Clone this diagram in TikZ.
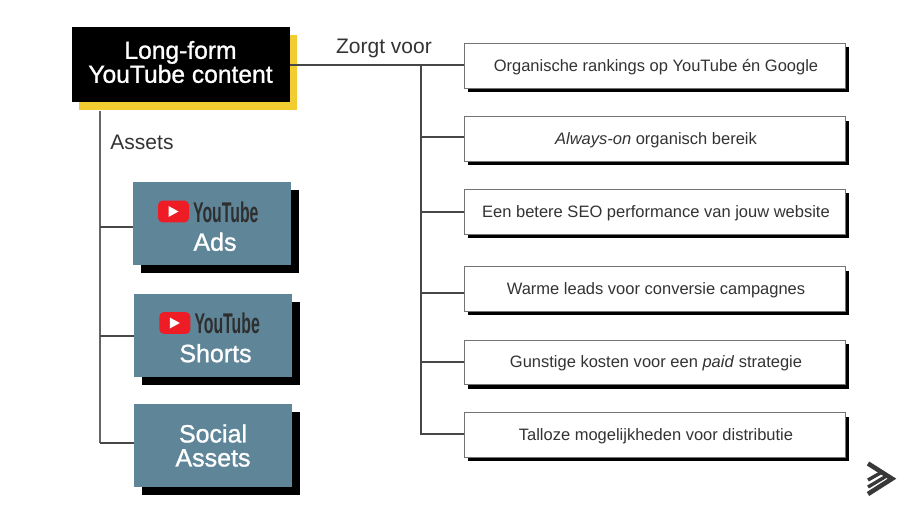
\documentclass[tikz,border=0pt]{standalone}
\usepackage{fontspec}
\usepackage{graphicx}
\setmainfont{Liberation Sans}
\newfontfamily\medfont[FakeBold=1.1]{Liberation Sans}
\usetikzlibrary{shadows}
\definecolor{ink}{HTML}{333333}
\definecolor{teal}{HTML}{5F8599}
\definecolor{gold}{HTML}{F2CD32}
\definecolor{ytred}{HTML}{EE1C25}
\tikzset{
  rbox/.style={draw=black!55,line width=.7pt,fill=white,text=ink,minimum width=381pt,minimum height=44.7pt,inner sep=0pt,font=\fontsize{16.5}{18}\selectfont,
    drop shadow={shadow xshift=4pt,shadow yshift=-4pt,fill=black,opacity=1}},
  rtxt/.style={text=ink,inner sep=0pt,font=\fontsize{16.5}{18}\selectfont},
  lbox/.style={fill=teal,text=white,minimum width=158pt,minimum height=82.6pt,inner sep=0pt,align=center,font=\medfont\fontsize{25}{24}\selectfont,
    drop shadow={shadow xshift=8pt,shadow yshift=-8pt,fill=black,opacity=1}},
  lbl/.style={text=white,inner sep=0pt,font=\medfont\fontsize{25}{24}\selectfont},
  tag/.style={text=ink,inner sep=0pt,font=\fontsize{21}{24}\selectfont},
  link/.style={draw=black!72,line width=2.1pt},
  trunk/.style={draw=black!60,line width=2.5pt},
}
\begin{document}
\begin{tikzpicture}[x=1pt,y=-1pt]
\useasboundingbox (0,0) rectangle (920,518);
\fill[white] (0,0) rectangle (920,518);
% main
\node[fill=black,minimum width=218pt,minimum height=74.4pt,inner sep=0pt,
  drop shadow={shadow xshift=7.7pt,shadow yshift=-8pt,fill=gold,opacity=1}] (main) at (180.5,64.5) {};
\node[text=white,inner sep=0pt,align=center,font=\medfont\fontsize{24.6}{24}\selectfont] (maintxt) at (180.5,62) {Long-form\\YouTube content};
% right boxes
\node[rbox] (r1) at (654.5,65.7) {};
\node[rbox] (r2) at (654.5,139) {};
\node[rbox] (r3) at (654.5,211.7) {};
\node[rbox] (r4) at (654.5,289) {};
\node[rbox] (r5) at (654.5,362.3) {};
\node[rbox] (r6) at (654.5,435) {};
\node[rtxt] (t1txt) at (656,67) {Organische rankings op YouTube én Google};
\node[rtxt] (t2txt) at (656,140) {\textit{Always-on} organisch bereik};
\node[rtxt] (t3txt) at (656,213.5) {Een betere SEO performance van jouw website};
\node[rtxt] (t4txt) at (656,290.5) {Warme leads voor conversie campagnes};
\node[rtxt] (t5txt) at (656,363.5) {Gunstige kosten voor een \textit{paid} strategie};
\node[rtxt] (t6txt) at (656,436.5) {Talloze mogelijkheden voor distributie};
% left boxes
\node[lbox] (ads) at (212,223.7) {};
\node[lbox] (shorts) at (213,335.5) {};
\node[lbox] (social) at (213,445.5) {Social\\Assets};
\node[lbl] (adstxt) at (215,241.8) {Ads};
\node[lbl] (shortstxt) at (215.5,353.2) {Shorts};
% logos
\foreach \n/\x/\y in {a/173.5/211.5,b/174.8/323}{
  \node[fill=ytred,rounded corners=4.5pt,minimum width=31pt,minimum height=21.8pt,inner sep=0pt] (\n red) at (\x,\y) {};
  \fill[white] ([xshift=-5pt,yshift=5.5pt]\n red.center) -- ([xshift=5pt]\n red.center) -- ([xshift=-5pt,yshift=-5.5pt]\n red.center) -- cycle;
  \node[anchor=west,inner sep=0pt,text=black!82,font=\bfseries\fontsize{28.5}{28}\selectfont] (\n yt) at ([xshift=3.8pt,yshift=-0.4pt]\n red.east) {\scalebox{.555}[1]{YouTube}};
}
% tags
\node[tag] (zorgt) at (384,48) {Zorgt voor};
\node[tag] (assets) at (142,142) {Assets};
% right connectors
\coordinate (j1) at (421,64.7);
\coordinate (j2) at (421,136.7);
\coordinate (j3) at (421,212);
\coordinate (j4) at (421,293.3);
\coordinate (j5) at (421,362);
\coordinate (j6) at (421,434.3);
\draw[link] (main.east |- j1) -- (j1 -| r1.west);
\draw[link,line cap=rect] (j1) -- (j6);
\foreach \j/\r in {j2/r2,j3/r3,j4/r4,j5/r5,j6/r6}
  \draw[link] (\j) -- (\j -| \r.west);
% left connectors
\coordinate (t0) at (100,111);
\coordinate (t1) at (100,227.3);
\coordinate (t2) at (100,335.7);
\coordinate (t3) at (100,443.4);
\draw[trunk] (t0) -- (t3);
\draw[link] (t1) -- (t1 -| ads.west);
\draw[link] (t2) -- (t2 -| shorts.west);
\draw[link] (t3) -- (t3 -| social.west);
% brand mark
\draw[draw=black!78,line width=4.6pt,line join=miter,miter limit=4]
  (868,463.5) -- (892,478.7) -- (868,494);
\draw[draw=black!78,line width=3.4pt] (882,472) -- (868,480);
\draw[draw=black!78,line width=3.4pt] (886.5,476) -- (868,487);
\end{tikzpicture}
\end{document}
